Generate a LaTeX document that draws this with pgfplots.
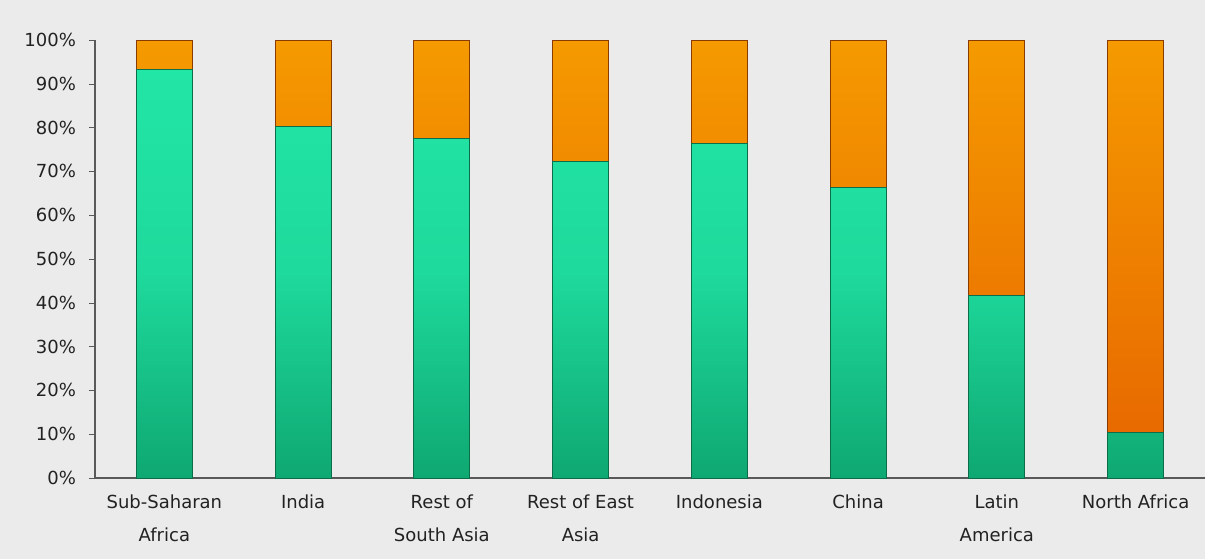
\documentclass[border=0pt]{standalone}
\usepackage{pgfplots}
\pgfplotsset{compat=1.18}
\usepackage{fontspec}
\setmainfont{DejaVu Sans}
\definecolor{bgc}{HTML}{EBEBEB}
\definecolor{gtop}{HTML}{22E6A6}
\definecolor{gbot}{HTML}{0FA872}
\definecolor{gedge}{HTML}{0B6E48}
\definecolor{otop}{HTML}{F59A00}
\definecolor{obot}{HTML}{E86A00}
\definecolor{oedge}{HTML}{8A3C00}
\definecolor{txt}{HTML}{222222}
\begin{document}
\begin{tikzpicture}
\pgfplotstableread{
x green orange
0 93.3 6.7
1 80.3 19.7
2 77.5 22.5
3 72.2 27.8
4 76.3 23.7
5 66.3 33.7
6 41.6 58.4
7 10.3 89.7
}\data
\fill[bgc] (-47.5pt,-40.5pt) rectangle (555pt,239pt);
\begin{axis}[
  at={(0,0)}, anchor=south west,
  scale only axis, width=555pt, height=219pt,
  ybar stacked, bar width=28pt,
  xmin=-0.5, xmax=7.5, ymin=0, ymax=100,
  axis x line*=bottom, axis y line*=left,
  axis line style={draw=gray!70!black, line width=0.8pt},
  xtick=data,
  xticklabels={Sub-Saharan\\Africa, India, Rest of\\South Asia, Rest of East\\Asia, Indonesia, China, Latin\\America, North Africa},
  xticklabel style={align=center, font={\fontsize{9}{16.5}\selectfont}, text=txt, yshift=-2pt},
  major x tick style={draw=none},
  ytick={0,10,...,100},
  yticklabels={0\%,10\%,20\%,30\%,40\%,50\%,60\%,70\%,80\%,90\%,100\%},
  yticklabel style={font=\fontsize{9}{11}\selectfont, text=txt, xshift=-3pt},
  ytick style={draw=gray!70!black},
  tick align=outside, major tick length=3pt,
  axis on top=false,
]
\addplot[draw=gedge, line width=0.5pt, top color=gtop, bottom color=gbot, middle color=gtop!80!gbot] table[x=x, y=green] {\data};
\addplot[draw=oedge, line width=0.5pt, top color=otop, bottom color=obot] table[x=x, y=orange] {\data};
\end{axis}
\pgfresetboundingbox
\path[use as bounding box] (-47.5pt,-40.5pt) rectangle (555pt,239pt);
\end{tikzpicture}
\end{document}
